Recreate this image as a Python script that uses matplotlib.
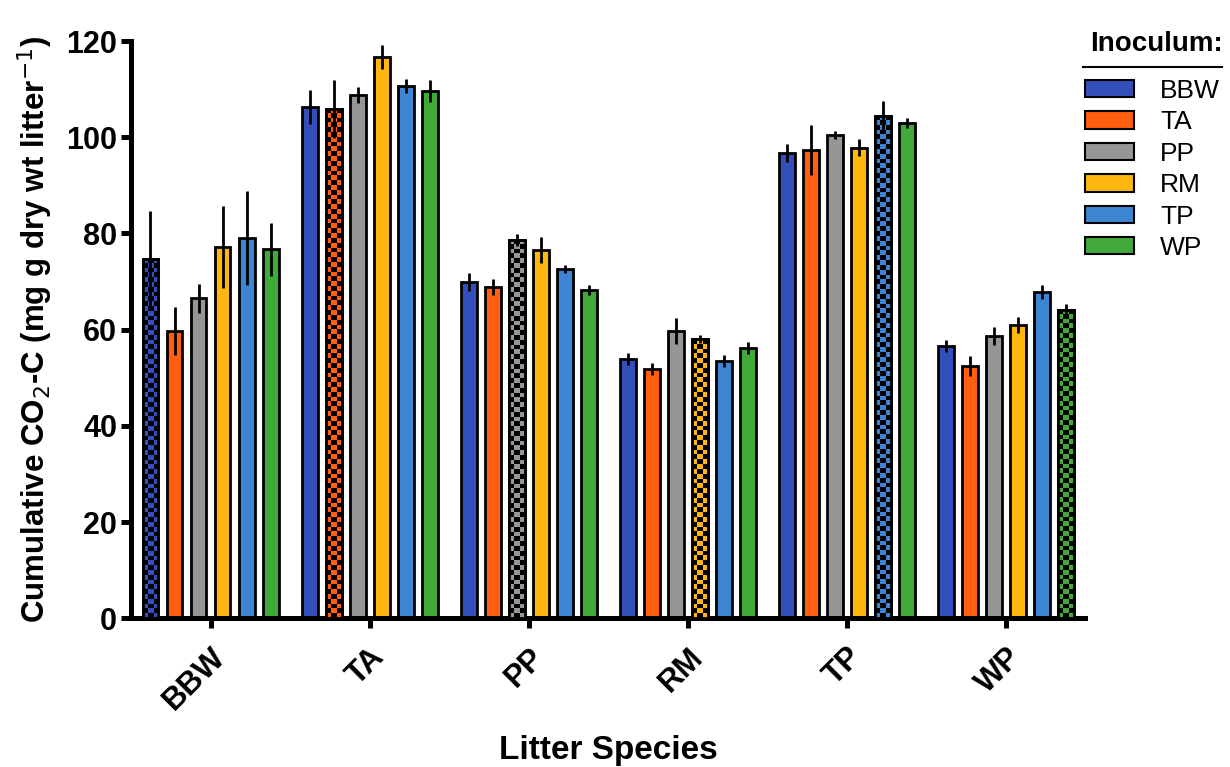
import numpy as np
import matplotlib
matplotlib.use("Agg")
import matplotlib.pyplot as plt
from matplotlib.lines import Line2D

plt.rcParams['font.family'] = ['Liberation Sans', 'DejaVu Sans']

litter = ["BBW", "TA", "PP", "RM", "TP", "WP"]
inoculum = ["BBW", "TA", "PP", "RM", "TP", "WP"]
colors = ["#3350BA", "#FF5F0F", "#969696", "#FFB70F", "#3D84D3", "#40A93A"]

# rows: litter species, columns: inoculum
means = np.array([
    [74.7, 59.7, 66.5, 77.2, 79.0, 76.7],
    [106.3, 105.9, 108.8, 116.7, 110.6, 109.6],
    [69.9, 68.8, 78.6, 76.5, 72.6, 68.2],
    [53.9, 51.8, 59.7, 58.0, 53.5, 56.2],
    [96.7, 97.3, 100.5, 97.8, 104.4, 103.0],
    [56.6, 52.4, 58.7, 60.9, 67.8, 64.1],
])
errors = np.array([
    [10.0, 5.0, 3.0, 8.5, 9.8, 5.5],
    [3.5, 6.0, 1.6, 2.5, 1.5, 2.3],
    [1.9, 1.7, 1.3, 2.7, 0.8, 1.1],
    [1.2, 1.2, 2.7, 0.8, 1.2, 1.2],
    [1.9, 5.2, 0.8, 1.8, 3.1, 1.0],
    [1.2, 2.1, 1.8, 1.7, 1.5, 1.2],
])

fig = plt.figure(figsize=(12.3, 7.67), dpi=100)
ax = fig.add_axes([0.1065, 0.194, 0.776, 0.7525])

x = np.arange(len(litter))
pitch = 0.151
width = 0.10
cell = 1.0  # checker cell height in data units

for j, name in enumerate(inoculum):
    pos = x + (j - 2.5) * pitch
    bars = ax.bar(pos, means[:, j], width=width, color=colors[j],
                  edgecolor="black", linewidth=2, label=name, zorder=2)
    ax.errorbar(pos, means[:, j], yerr=errors[:, j], fmt="none",
                ecolor="black", elinewidth=2, capsize=0, zorder=4)
    # home inoculum on its own litter gets a checkered fill
    b = bars[j]
    nrows = int(round(b.get_height() / cell))
    checker = (np.indices((nrows, 3)).sum(axis=0) % 2).astype(float)
    cmap = matplotlib.colors.ListedColormap([colors[j], "black"])
    im = ax.imshow(checker, cmap=cmap, interpolation="nearest", aspect="auto",
                   extent=(b.get_x(), b.get_x() + b.get_width(), 0, b.get_height()),
                   origin="lower", zorder=3)
    im.set_clip_path(b)
    ax.bar(b.get_x() + b.get_width() / 2, b.get_height(), width=width,
           facecolor="none", edgecolor="black", linewidth=2, zorder=3.5)

ax.set_xlim(-0.5, 5.5)
ax.set_ylim(0, 120)
ax.set_yticks(np.arange(0, 121, 20))
ax.set_xticks(x)
ax.set_xticklabels(litter, rotation=45, ha="right", rotation_mode="anchor",
                   fontsize=22.5, fontweight="bold")
for lab in ax.get_yticklabels():
    lab.set_fontweight("bold")
    lab.set_fontsize(22)

for s in ["top", "right"]:
    ax.spines[s].set_visible(False)
for s in ["left", "bottom"]:
    ax.spines[s].set_linewidth(3.6)
ax.tick_params(axis="both", direction="out", length=7, width=3.6, pad=3)
ax.tick_params(axis="x", pad=10)

ax.set_ylabel("Cumulative CO$_2$-C (mg g dry wt litter$^{-1}$)",
              fontsize=22.5, fontweight="bold", labelpad=8)
ax.set_xlabel("Litter Species", fontsize=24, fontweight="bold", labelpad=14)

leg = fig.legend(*ax.get_legend_handles_labels(), loc="upper left",
                 bbox_to_anchor=(1085 / 1230, 1 - 79 / 767),
                 frameon=False, fontsize=19, handlelength=1.85, handleheight=0.64,
                 handletextpad=1.0, labelspacing=0.28, borderpad=0,
                 borderaxespad=0)
for h in leg.legend_handles:
    h.set_linewidth(1.5)

fig.text(1156 / 1230, 1 - 44 / 767, "Inoculum:", fontsize=20, fontweight="bold",
         ha="center", va="center")
fig.add_artist(Line2D([0.8805, 0.9935], [0.9126, 0.9126], color="black", lw=1.5,
                      transform=fig.transFigure))

fig.savefig("out.png", dpi=100)
